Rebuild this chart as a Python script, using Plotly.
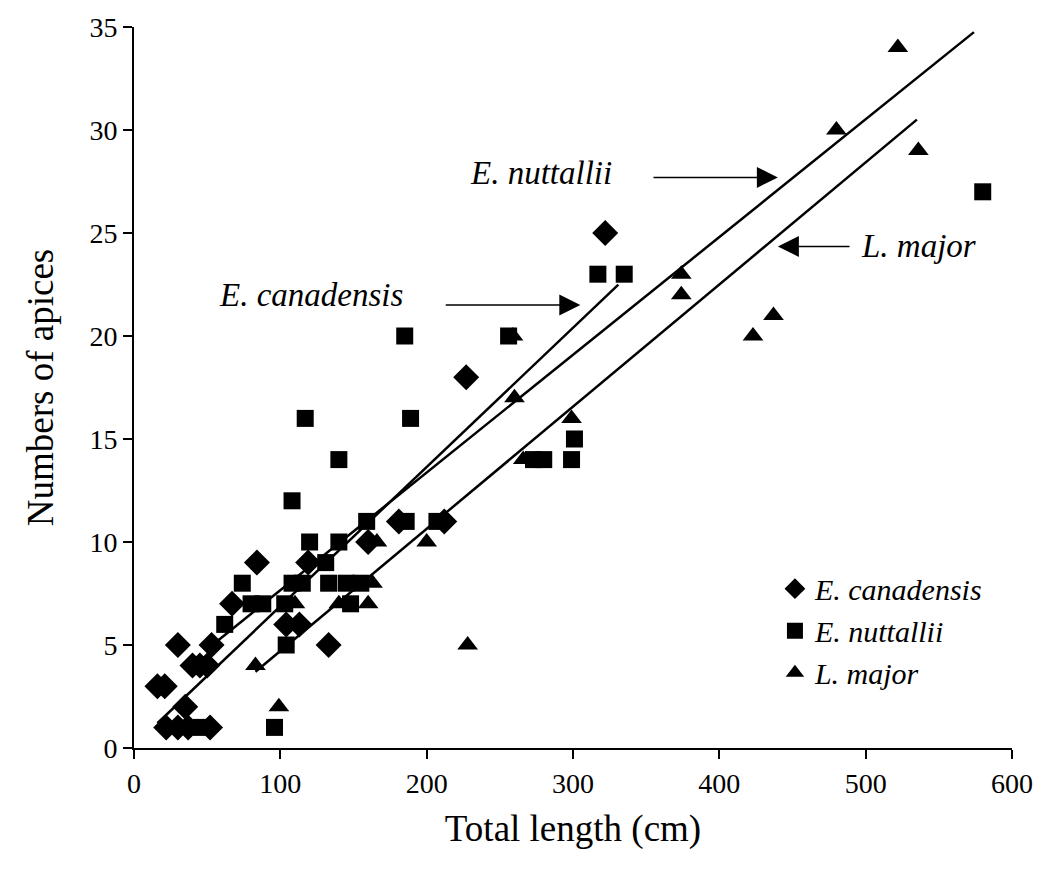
import plotly.graph_objects as go

# ---------------- data ----------------
can_x = [16, 21, 22, 30, 37, 52, 35, 40, 45, 50, 30, 53, 67, 84, 104, 113, 119, 133, 160, 181, 212, 227, 322]
can_y = [3, 3, 1, 1, 1, 1, 2, 4, 4, 4, 5, 5, 7, 9, 6, 6, 9, 5, 10, 11, 11, 18, 25]

nut_x = [46, 62, 74, 80, 88, 96, 104, 103, 108, 115, 108, 120, 131, 117, 133, 145, 155, 148, 140, 140,
         159, 186, 185, 189, 207, 256, 273, 280, 299, 301, 317, 335, 580]
nut_y = [1, 6, 8, 7, 7, 1, 5, 7, 8, 8, 12, 10, 9, 16, 8, 8, 8, 7, 10, 14,
         11, 11, 20, 16, 11, 20, 14, 14, 14, 15, 23, 23, 27]

maj_x = [83, 99, 110, 140, 160, 163, 166, 200, 228, 259, 260, 266, 299, 374, 374, 423, 437, 480, 522, 536]
maj_y = [4, 2, 7, 7, 7, 8, 10, 10, 5, 20, 17, 14, 16, 23, 22, 20, 21, 30, 34, 29]

# regression lines: intercept, slope, x-start, x-end
can_fit = [0.12, 0.0676, 16, 331]
nut_fit = [1.94, 0.05716, 50, 574]
maj_fit = [-1.22, 0.0593, 83, 535]

x_ticks = [0, 100, 200, 300, 400, 500, 600]
y_ticks = [0, 5, 10, 15, 20, 25, 30, 35]

FONT = "Liberation Serif"
TICK_FS = 28
TITLE_FS = 37
ANN_FS = 33
LEG_FS = 30

fig = go.Figure()

def add_pts(x, y, name, symbol, size):
    fig.add_trace(go.Scatter(
        x=x, y=y, mode="markers", name=f"<i>{name}</i>",
        marker=dict(symbol=symbol, size=size, color="black", line=dict(width=0)),
    ))

add_pts(can_x, can_y, "E. canadensis", "diamond", 20)
add_pts(nut_x, nut_y, "E. nuttallii", "square", 17)
add_pts(maj_x, maj_y, "L. major", "triangle-up", 18)

for a, b, x0, x1 in [can_fit, nut_fit, maj_fit]:
    fig.add_trace(go.Scatter(
        x=[x0, x1], y=[a + b * x0, a + b * x1], mode="lines",
        line=dict(color="black", width=2.5), showlegend=False, hoverinfo="skip",
    ))

# labels with arrows
labels = [
    ("E. nuttallii", 278, 27.9, 354, 440, 27.7),
    ("E. canadensis", 121, 22.0, 212, 305, 21.5),
    ("L. major", 536, 24.35, 490, 440, 24.35),
]
for text, tx, ty, ax0, ax1, ay in labels:
    fig.add_annotation(x=tx, y=ty, text=f"<i>{text}</i>", showarrow=False,
                       font=dict(family=FONT, size=ANN_FS, color="black"))
    fig.add_annotation(x=ax1, y=ay, ax=ax0, ay=ay, axref="x", ayref="y",
                       xref="x", yref="y", text="", showarrow=True,
                       arrowhead=2, arrowsize=2.8, arrowwidth=1.5, arrowcolor="black")

fig.update_layout(
    width=1045, height=875,
    margin=dict(l=134, r=24, t=25, b=127),
    paper_bgcolor="white", plot_bgcolor="white",
    font=dict(family=FONT, size=TICK_FS, color="black"),
    showlegend=True,
    legend=dict(x=0.73, y=0.257, xanchor="left", yanchor="top",
                bgcolor="rgba(0,0,0,0)", font=dict(family=FONT, size=LEG_FS),
                itemsizing="trace", tracegroupgap=0),
    xaxis=dict(range=[0, 600], tickvals=x_ticks, showgrid=False, zeroline=False,
               showline=True, linecolor="black", linewidth=2,
               ticks="outside", ticklen=9, tickwidth=2, tickcolor="black",
               tickfont=dict(family=FONT, size=TICK_FS),
               title=dict(text="Total length (cm)", standoff=18,
                          font=dict(family=FONT, size=TITLE_FS))),
    yaxis=dict(range=[0, 35], tickvals=y_ticks, showgrid=False, zeroline=False,
               showline=True, linecolor="black", linewidth=2,
               ticks="outside", ticklen=9, tickwidth=2, tickcolor="black",
               tickfont=dict(family=FONT, size=TICK_FS),
               title=dict(text="Numbers of apices", standoff=24,
                          font=dict(family=FONT, size=TITLE_FS))),
)

fig.write_html("out.html")
